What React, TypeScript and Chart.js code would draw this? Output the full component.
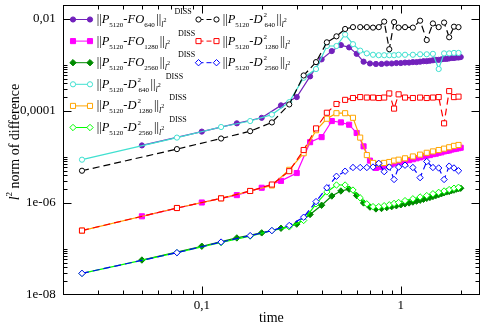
import React, { useEffect, useRef } from 'react';
import { Chart, registerables } from 'chart.js';

Chart.register(...registerables);

// time samples
const tFO = [0.05, 0.1, 0.15, 0.2, 0.25, 0.3, 0.35, 0.4, 0.45, 0.5,
  0.55, 0.6, 0.65, 0.7, 0.75, 0.8, 0.85, 0.9, 0.95, 1.0,
  1.05, 1.1, 1.15, 1.2, 1.25, 1.3, 1.35, 1.4, 1.45, 1.5,
  1.55, 1.6, 1.65, 1.7, 1.75, 1.8, 1.85, 1.9, 1.95, 2.0];
const tD = [0.025, 0.075, 0.125, 0.175, 0.225, 0.275, 0.325, 0.375, 0.425, 0.475,
  0.525, 0.575, 0.625, 0.675, 0.725, 0.775, 0.825, 0.875, 0.925, 0.975,
  1.05, 1.15, 1.25, 1.35, 1.45, 1.55, 1.65, 1.75, 1.85, 1.95];

// log10 of the l2 norm of difference
const fo640Log = [-4.75, -4.45, -4.27, -4.15, -3.88, -3.70, -3.25, -2.88, -2.70, -2.57,
  -2.62, -2.76, -2.93, -2.97, -2.98, -2.98, -2.97, -2.97, -2.96, -2.96,
  -2.95, -2.95, -2.94, -2.94, -2.93, -2.92, -2.92, -2.91, -2.90, -2.89,
  -2.89, -2.88, -2.87, -2.87, -2.86, -2.85, -2.85, -2.84, -2.84, -2.83];
const fo1280Log = [-6.29, -5.99, -5.83, -5.67, -5.52, -5.35, -4.68, -4.57, -4.22, -4.25,
  -4.30, -4.48, -4.77, -5.08, -5.24, -5.22, -5.19, -5.16, -5.13, -5.11,
  -5.09, -5.07, -5.05, -5.03, -5.01, -4.99, -4.97, -4.96, -4.94, -4.93,
  -4.91, -4.90, -4.88, -4.87, -4.86, -4.84, -4.83, -4.82, -4.81, -4.80];
const fo2560Log = [-7.24, -6.94, -6.76, -6.65, -6.55, -6.46, -6.25, -6.05, -5.85, -5.74,
  -5.70, -5.84, -6.00, -6.09, -6.13, -6.12, -6.10, -6.08, -6.06, -6.04,
  -6.02, -6.00, -5.98, -5.96, -5.94, -5.92, -5.90, -5.88, -5.86, -5.84,
  -5.82, -5.80, -5.78, -5.76, -5.75, -5.73, -5.72, -5.70, -5.69, -5.68];
const d2_640Log = [-5.06, -4.58, -4.35, -4.22, -4.08, -3.81, -3.28, -3.09, -2.59, -2.59,
  -2.34, -2.55, -2.69, -2.75, -2.78, -2.79, -2.79, -2.79, -2.79, -2.78,
  -2.78, -2.78, -2.77, -2.77, -2.76, -3.09, -2.75, -2.75, -2.74, -2.74];
const d2_1280Log = [-6.60, -6.11, -5.90, -5.74, -5.62, -5.28, -4.92, -4.42, -4.17, -4.05,
  -4.05, -4.15, -4.58, -4.96, -5.13, -5.15, -5.13, -5.11, -5.08, -5.06,
  -5.03, -4.99, -4.95, -4.91, -4.88, -4.85, -4.82, -4.79, -4.76, -4.74];
const d2_2560Log = [-7.53, -7.08, -6.86, -6.72, -6.60, -6.52, -6.38, -6.02, -5.76, -5.61,
  -5.61, -5.72, -5.89, -6.02, -6.08, -6.08, -6.06, -6.04, -6.01, -5.99,
  -5.95, -5.91, -5.87, -5.84, -5.80, -5.77, -5.74, -5.71, -5.68, -5.66];
const d640Log = [-5.30, -4.83, -4.60, -4.44, -4.25, -3.86, -3.23, -2.94, -2.51, -2.38,
  -2.22, -2.18, -2.18, -2.18, -2.19, -2.18, -2.06, -2.66, -2.07, -2.19,
  -2.18, -2.19, -2.04, -2.46, -2.10, -2.18, -2.08, -2.40, -2.17, -2.18];
const d1280Log = [-6.60, -6.11, -5.90, -5.74, -5.60, -5.31, -4.85, -4.38, -4.04, -3.85,
  -3.76, -3.72, -3.70, -3.71, -3.71, -3.72, -3.71, -3.62, -3.95, -3.64,
  -3.71, -3.72, -3.71, -3.72, -3.71, -3.70, -4.27, -3.57, -3.70, -3.69];
const d2560Log = [-7.53, -7.08, -6.85, -6.71, -6.60, -6.49, -6.31, -5.97, -5.67, -5.42,
  -5.31, -5.23, -5.23, -5.23, -5.22, -5.14, -5.32, -5.22, -5.49, -5.22,
  -5.18, -5.23, -5.45, -5.10, -5.23, -5.24, -5.49, -5.20, -5.24, -5.30];

const xTicks = [0.1, 1];
const xTickLabels = ['0,1', '1'];
const yTicks = [1e-8, 1e-6, 1e-4, 1e-2];
const yTickLabels = ['1e-08', '1e-06', '0,0001', '0,01'];

const SERIF = '"Liberation Serif", "Times New Roman", serif';

type Sty = 'circle' | 'rect' | 'rectRot';
interface SeriesDef {
  logs: number[]; t: number[]; color: string; style: Sty; filled: boolean; dashed: boolean;
  kind: 'FO' | 'D2'; res: string; diss: boolean; col: number; row: number;
}

const series: SeriesDef[] = [
  { logs: fo640Log, t: tFO, color: '#7221bc', style: 'circle', filled: true, dashed: false, kind: 'FO', res: '640', diss: true, col: 0, row: 0 },
  { logs: fo1280Log, t: tFO, color: '#ff00ff', style: 'rect', filled: true, dashed: false, kind: 'FO', res: '1280', diss: true, col: 0, row: 1 },
  { logs: fo2560Log, t: tFO, color: '#008b00', style: 'rectRot', filled: true, dashed: false, kind: 'FO', res: '2560', diss: true, col: 0, row: 2 },
  { logs: d2_640Log, t: tD, color: '#40e0d0', style: 'circle', filled: false, dashed: false, kind: 'D2', res: '640', diss: true, col: 0, row: 3 },
  { logs: d2_1280Log, t: tD, color: '#ffa500', style: 'rect', filled: false, dashed: false, kind: 'D2', res: '1280', diss: true, col: 0, row: 4 },
  { logs: d2_2560Log, t: tD, color: '#00ff00', style: 'rectRot', filled: false, dashed: false, kind: 'D2', res: '2560', diss: true, col: 0, row: 5 },
  { logs: d640Log, t: tD, color: '#000000', style: 'circle', filled: false, dashed: true, kind: 'D2', res: '640', diss: false, col: 1, row: 0 },
  { logs: d1280Log, t: tD, color: '#ff0000', style: 'rect', filled: false, dashed: true, kind: 'D2', res: '1280', diss: false, col: 1, row: 1 },
  { logs: d2560Log, t: tD, color: '#0000ff', style: 'rectRot', filled: false, dashed: true, kind: 'D2', res: '2560', diss: false, col: 1, row: 2 },
];

const RADIUS: Record<Sty, number> = { circle: 2.6, rect: 3.6, rectRot: 3.2 };
const DASH = [7, 4];

function drawMarker(ctx: CanvasRenderingContext2D, style: Sty, x: number, y: number, color: string, filled: boolean) {
  const r = RADIUS[style];
  ctx.save();
  ctx.beginPath();
  ctx.setLineDash([]);
  if (style === 'circle') {
    ctx.arc(x, y, r, 0, Math.PI * 2);
  } else if (style === 'rect') {
    const s = r * Math.SQRT1_2;
    ctx.rect(x - s, y - s, 2 * s, 2 * s);
  } else {
    ctx.moveTo(x, y - r); ctx.lineTo(x + r, y); ctx.lineTo(x, y + r); ctx.lineTo(x - r, y); ctx.closePath();
  }
  ctx.fillStyle = filled ? color : '#ffffff';
  ctx.fill();
  ctx.lineWidth = 1;
  ctx.strokeStyle = color;
  ctx.stroke();
  ctx.restore();
}

interface Part { text: string; font: string; dy: number; noAdvance?: boolean; gap?: number }

function legendParts(s: SeriesDef): Part[] {
  const main = `12.5px ${SERIF}`;
  const ital = `italic 12.5px ${SERIF}`;
  const sub = `7px ${SERIF}`;
  const subI = `italic 8px ${SERIF}`;
  const tiny = `6px ${SERIF}`;
  const p: Part[] = [
    { text: '||', font: main, dy: 0 },
    { text: 'P', font: ital, dy: 0 },
    { text: '5120', font: sub, dy: 4 },
    { text: '-', font: main, dy: 0 },
  ];
  if (s.kind === 'FO') {
    p.push({ text: 'FO', font: ital, dy: 0 });
  } else {
    p.push({ text: 'D', font: ital, dy: 0 });
    p.push({ text: '2', font: sub, dy: -6, noAdvance: true, gap: 1 });
  }
  p.push({ text: s.res, font: sub, dy: 4, gap: s.kind === 'D2' ? 1 : 0 });
  p.push({ text: '||', font: main, dy: 0, gap: 1.5 });
  p.push({ text: 'l', font: subI, dy: 4 });
  p.push({ text: '2', font: tiny, dy: -1 });
  if (s.diss) p.push({ text: 'DISS', font: `8px ${SERIF}`, dy: -9, gap: s.kind === 'FO' ? 8 : 5 });
  return p;
}

const framePlugin = {
  id: 'frameTicks',
  afterDatasetsDraw(chart: any) {
    const { ctx, chartArea: a, scales } = chart;
    const xs = scales.x, ys = scales.y;
    ctx.save();
    ctx.strokeStyle = '#000';
    ctx.lineWidth = 1;
    ctx.setLineDash([]);
    const L = Math.round(a.left) + 0.5, R = Math.round(a.right) - 0.5;
    const T = Math.round(a.top) + 0.5, B = Math.round(a.bottom) - 0.5;
    ctx.strokeRect(L, T, R - L, B - T);
    const major = 8, minor = 4;
    const xMinor: number[] = [];
    [0.01, 0.1, 1].forEach((d) => { for (let k = 2; k <= 9; k++) xMinor.push(k * d); });
    const yMinor: number[] = [];
    [-8, -6, -4].forEach((e) => { for (let k = 2; k <= 10; k++) yMinor.push(k * Math.pow(10, e)); });
    ctx.beginPath();
    const vx = (v: number, len: number) => {
      if (v <= xs.min * 1.0001 || v >= xs.max * 0.9999) return;
      const px = Math.round(xs.getPixelForValue(v)) + 0.5;
      ctx.moveTo(px, B); ctx.lineTo(px, B - len);
      ctx.moveTo(px, T); ctx.lineTo(px, T + len);
    };
    const vy = (v: number, len: number) => {
      if (v <= ys.min * 1.0001 || v >= ys.max * 0.9999) return;
      const py = Math.round(ys.getPixelForValue(v)) + 0.5;
      ctx.moveTo(L, py); ctx.lineTo(L + len, py);
      ctx.moveTo(R, py); ctx.lineTo(R - len, py);
    };
    xMinor.forEach((v) => vx(v, minor));
    xTicks.forEach((v) => vx(v, major));
    yMinor.forEach((v) => vy(v, minor));
    yTicks.forEach((v) => vy(v, major));
    ctx.stroke();
    ctx.restore();
  },
  afterDraw(chart: any) {
    const { ctx, chartArea: a } = chart;
    ctx.save();
    ctx.fillStyle = '#000';
    // x title
    ctx.font = `14px ${SERIF}`;
    ctx.textAlign = 'center';
    ctx.textBaseline = 'alphabetic';
    ctx.fillText('time', (a.left + a.right) / 2, 322);
    // y title
    ctx.save();
    ctx.translate(19, 142);
    ctx.rotate(-Math.PI / 2);
    const yParts: Part[] = [
      { text: 'l', font: `italic 14px ${SERIF}`, dy: 0 },
      { text: '2', font: `9px ${SERIF}`, dy: -7 },
      { text: ' norm of difference', font: `14px ${SERIF}`, dy: 0 },
    ];
    let total = 0;
    yParts.forEach((p) => { ctx.font = p.font; total += ctx.measureText(p.text).width; });
    let cx = -total / 2;
    ctx.textAlign = 'left';
    yParts.forEach((p) => { ctx.font = p.font; ctx.fillText(p.text, cx, p.dy); cx += ctx.measureText(p.text).width; });
    ctx.restore();
    // legend
    const colX = [[73, 90, 96.7], [198.5, 216.5, 222.7]];
    series.forEach((s) => {
      const y = 19 + 21.6 * s.row;
      const [x1, x2, tx] = colX[s.col];
      ctx.save();
      ctx.strokeStyle = s.color;
      ctx.lineWidth = 1;
      ctx.setLineDash(s.dashed ? [5, 3] : []);
      ctx.beginPath();
      ctx.moveTo(x1, y + 0.5); ctx.lineTo(x2, y + 0.5);
      ctx.stroke();
      ctx.restore();
      drawMarker(ctx, s.style, x1, y + 0.5, s.color, s.filled);
      drawMarker(ctx, s.style, x2, y + 0.5, s.color, s.filled);
      let x = tx;
      const base = y + 4;
      ctx.fillStyle = '#000';
      ctx.textAlign = 'left';
      legendParts(s).forEach((p) => {
        ctx.font = p.font;
        if (p.gap) x += p.gap;
        ctx.fillText(p.text, x, base + p.dy);
        if (!p.noAdvance) x += ctx.measureText(p.text).width;
      });
    });
    ctx.restore();
  },
};

export default function App() {
  const ref = useRef<HTMLCanvasElement | null>(null);
  useEffect(() => {
    document.body.style.margin = '0';
    const canvas = ref.current;
    if (!canvas) return;
    const datasets = series.map((s, i) => ({
      label: s.kind + s.res,
      data: s.t.map((t, j) => ({ x: t, y: Math.pow(10, s.logs[j]) })),
      borderColor: s.color,
      backgroundColor: s.color,
      borderWidth: 1.2,
      borderDash: s.dashed ? DASH : [],
      pointStyle: s.style,
      pointRadius: RADIUS[s.style],
      pointBorderWidth: 1,
      pointBorderColor: s.color,
      pointBackgroundColor: s.filled ? s.color : '#ffffff',
      tension: 0,
      order: series.length - i,
    }));
    const chart = new Chart(canvas, {
      type: 'line',
      data: { datasets },
      options: {
        animation: false,
        responsive: false,
        devicePixelRatio: 1,
        layout: { padding: { left: 0, right: 3, top: 1.7, bottom: 0 } },
        plugins: { legend: { display: false }, tooltip: { enabled: false } },
        scales: {
          x: {
            type: 'logarithmic', min: 0.02, max: 2.5, position: 'bottom',
            grid: { display: false, drawTicks: false }, border: { display: false },
            afterBuildTicks: (sc: any) => { sc.ticks = xTicks.map((v) => ({ value: v })); },
            afterFit: (sc: any) => { sc.height = 32; sc.paddingLeft = 0; sc.paddingRight = 0; },
            ticks: {
              autoSkip: false, maxRotation: 0, padding: 3, color: '#000',
              font: { family: SERIF, size: 13 },
              callback: (_v: any, i: number) => xTickLabels[i],
            },
          },
          y: {
            type: 'logarithmic', min: 1e-8, max: 0.02, position: 'left',
            grid: { display: false, drawTicks: false }, border: { display: false },
            afterBuildTicks: (sc: any) => { sc.ticks = yTicks.map((v) => ({ value: v })); },
            afterFit: (sc: any) => { sc.width = 62.7; sc.paddingTop = 0; sc.paddingBottom = 0; },
            ticks: {
              autoSkip: false, padding: 7, color: '#000',
              font: { family: SERIF, size: 13 },
              callback: (_v: any, i: number) => yTickLabels[i],
            },
          },
        },
      },
      plugins: [framePlugin],
    } as any);
    return () => chart.destroy();
  }, []);
  return (
    <div style={{ width: 485, height: 327 }}>
      <canvas ref={ref} width={485} height={327} style={{ display: 'block' }} />
    </div>
  );
}
